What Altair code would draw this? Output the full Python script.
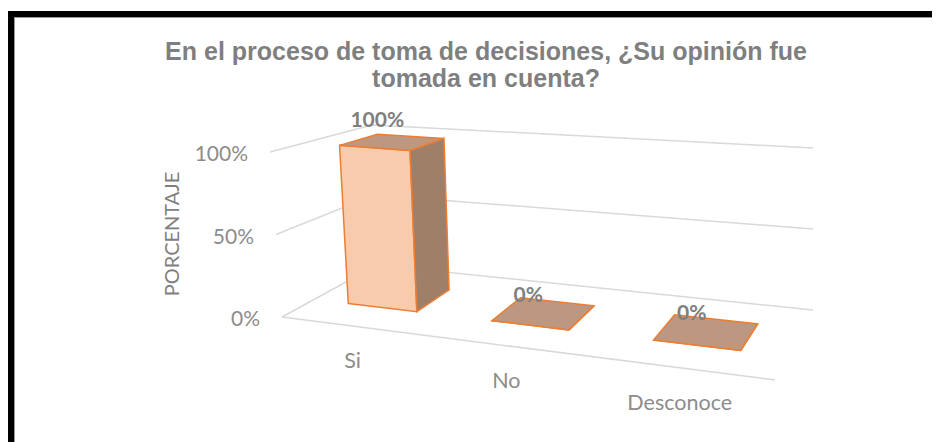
import altair as alt
import pandas as pd

categories = ["Si", "No", "Desconoce"]
values = [100, 0, 0]
value_ticks = [0, 50, 100]
title_lines = ["En el proceso de toma de decisiones, ¿Su opinión fue", "tomada en cuenta?"]
axis_title = "PORCENTAJE"

# Faux 3-D frame of the chart, as seen in the picture: (across, depth, height)
FLOOR = {"f0": (282, 317), "f1": (775, 380), "b0": (377, 265), "b1": (813, 310)}
TOP = {"f0": (270, 152), "f1": (780, 194), "b0": (372, 125), "b1": (813, 148)}
PERSPECTIVE = 0.165
HALF_BAR = 0.082
DEPTH_FRONT, DEPTH_BACK = 0.34, 0.73
LABEL_START, LABEL_STEP, LABEL_DEPTH = 0.0757, 0.353, 0.77
VIEW_W, VIEW_H = 924, 434
X_MAX, Y_MAX = 8 + VIEW_W, 8 + VIEW_H


def bilinear(c, u, v):
    return tuple(
        (1 - u) * (1 - v) * c["f0"][i] + u * (1 - v) * c["f1"][i]
        + (1 - u) * v * c["b0"][i] + u * v * c["b1"][i]
        for i in (0, 1)
    )


def across(t):
    return (1 - PERSPECTIVE) * t / (1 - PERSPECTIVE * t)


def project(t, v, h):
    u = across(t)
    a, b = bilinear(FLOOR, u, v), bilinear(TOP, u, v)
    return ((1 - h) * a[0] + h * b[0], (1 - h) * a[1] + h * b[1])


xs = alt.Scale(domain=[8, X_MAX], nice=False, zero=False)
ys = alt.Scale(domain=[Y_MAX, 8], nice=False, zero=False)
X = lambda f="x": alt.X(f"{f}:Q", scale=xs, axis=None)
Y = lambda f="y": alt.Y(f"{f}:Q", scale=ys, axis=None)

# Gridlines
grid = []
for v in value_ticks:
    h = v / 100
    for i, (t, d) in enumerate([(0, 0), (0, 1), (1, 1)]):
        x, y = project(t, d, h)
        grid.append({"g": f"wall{v}", "k": i, "x": x, "y": y})
for i, (t, d) in enumerate([(0, 0), (1, 0)]):
    x, y = project(t, d, 0)
    grid.append({"g": "front", "k": i, "x": x, "y": y})
grid_layer = alt.Chart(pd.DataFrame(grid)).mark_line(color="#D9D9D9", strokeWidth=1.5).encode(
    x=X(), y=Y(), detail="g:N", order="k:Q"
)

# Bars
faces = {"front": [], "side": [], "top": []}
for i, (cat, val) in enumerate(zip(categories, values)):
    c = (i + 0.5) / len(categories)
    l, r = c - HALF_BAR, c + HALF_BAR
    h = val / 100
    quads = {
        "front": [(l, DEPTH_FRONT, 0), (r, DEPTH_FRONT, 0), (r, DEPTH_FRONT, h), (l, DEPTH_FRONT, h)],
        "side": [(r, DEPTH_FRONT, 0), (r, DEPTH_BACK, 0), (r, DEPTH_BACK, h), (r, DEPTH_FRONT, h)],
        "top": [(l, DEPTH_FRONT, h), (r, DEPTH_FRONT, h), (r, DEPTH_BACK, h), (l, DEPTH_BACK, h)],
    }
    for name, q in quads.items():
        for k, p in enumerate(q):
            x, y = project(*p)
            faces[name].append({"cat": cat, "k": k, "x": x, "y": y})

FACE_FILL = {"front": "#F8CBAD", "side": "#A07F69", "top": "#BD9780"}
face_layers = [
    alt.Chart(pd.DataFrame(rows)).mark_line(
        fill=FACE_FILL[name], stroke="#ED7D31", strokeWidth=1.5,
        interpolate="linear-closed", strokeJoin="miter",
    ).encode(x=X(), y=Y(), detail="cat:N", order="k:Q")
    for name, rows in faces.items()
]

# Tick labels
tick_rows = []
for v in value_ticks:
    x, y = project(0, 0, v / 100)
    tick_rows.append({"x": x, "y": y, "label": f"{v}%"})
tick_layer = alt.Chart(pd.DataFrame(tick_rows)).mark_text(
    font="Lato", fontSize=21, color="#8C8C8C", align="right", baseline="middle", dx=-22, dy=3
).encode(x=X(), y=Y(), text="label:N")

# Category labels
cat_rows = []
for i, cat in enumerate(categories):
    x, y = project((i + 0.5) / len(categories), 0, 0)
    cat_rows.append({"x": x, "y": y, "label": cat})
cat_layer = alt.Chart(pd.DataFrame(cat_rows)).mark_text(
    font="Lato", fontSize=21.5, color="#8C8C8C", align="center", baseline="middle", dy=36
).encode(x=X(), y=Y(), text="label:N")

# Value labels
val_rows = []
for i, val in enumerate(values):
    x, y = project(LABEL_START + LABEL_STEP * i, LABEL_DEPTH, val / 100 * 1.08)
    val_rows.append({"x": x, "y": y, "label": f"{val}%"})
val_layer = alt.Chart(pd.DataFrame(val_rows)).mark_text(
    font="Lato", fontSize=21, fontWeight="bold", color="#7F7F7F", align="center", baseline="middle"
).encode(x=X(), y=Y(), text="label:N")

# Axis title
axis_layer = alt.Chart(pd.DataFrame({"x": [173], "y": [234], "label": [axis_title]})).mark_text(
    font="Lato", fontSize=20, color="#7F7F7F", angle=270, align="center", baseline="middle"
).encode(x=X(), y=Y(), text="label:N")

# Black frame (top and left only, running off the picture), with its soft grey inner edge
frame_edge_h = alt.Chart(pd.DataFrame({"x": [14], "x2": [X_MAX], "y": [17.5]})).mark_rule(
    color="#9A9A9A", strokeWidth=1
).encode(x=X(), x2="x2:Q", y=Y())
frame_edge_v = alt.Chart(pd.DataFrame({"x": [14.5], "y": [17], "y2": [Y_MAX]})).mark_rule(
    color="#9A9A9A", strokeWidth=1
).encode(x=X(), y=Y(), y2="y2:Q")
frame_h = alt.Chart(pd.DataFrame({"x": [8], "x2": [X_MAX], "y": [14]})).mark_rule(
    color="#000000", strokeWidth=6
).encode(x=X(), x2="x2:Q", y=Y())
frame_v = alt.Chart(pd.DataFrame({"x": [11], "y": [11], "y2": [Y_MAX]})).mark_rule(
    color="#000000", strokeWidth=6
).encode(x=X(), y=Y(), y2="y2:Q")

chart = alt.layer(
    grid_layer, *face_layers, tick_layer, cat_layer, val_layer, axis_layer,
    frame_edge_h, frame_edge_v, frame_h, frame_v
).properties(
    width=VIEW_W,
    height=VIEW_H,
    padding=0,
    autosize=alt.AutoSizeParams(type="none"),
    background="#FFFFFF",
    title=alt.TitleParams(
        text=title_lines, anchor="middle", dx=16, dy=88,
        font="Liberation Sans", fontSize=25, fontWeight="bold",
        color="#7F7F7F", lineHeight=27,
    ),
).configure_view(stroke=None)

chart.save("out.html", embed_options={"renderer": "svg", "actions": False})
